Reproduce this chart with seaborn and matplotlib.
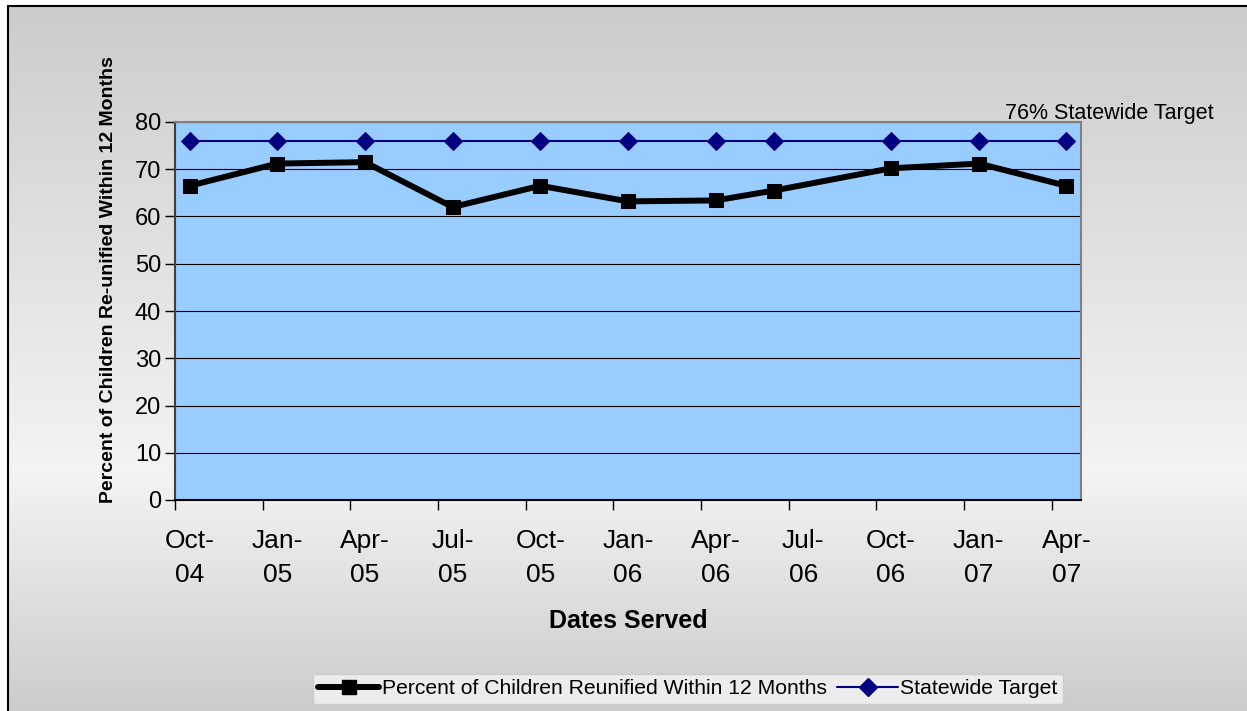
import numpy as np
import pandas as pd
import matplotlib.pyplot as plt
import seaborn as sns
from matplotlib.lines import Line2D

# data
dates = ['2004-10', '2005-01', '2005-04', '2005-07', '2005-10', '2006-01',
         '2006-04', '2006-06', '2006-10', '2007-01', '2007-04']
reunified = [66.5, 71.2, 71.5, 62.0, 66.5, 63.2, 63.4, 65.5, 70.2, 71.2, 66.5]
target = [76, 76, 76, 76, 76, 76, 76, 76, 76, 76, 76]
tick_labels = ['Oct-\n04', 'Jan-\n05', 'Apr-\n05', 'Jul-\n05', 'Oct-\n05', 'Jan-\n06',
               'Apr-\n06', 'Jul-\n06', 'Oct-\n06', 'Jan-\n07', 'Apr-\n07']

sns.set_style("white")
plt.rcParams['font.family'] = ['Liberation Sans', 'DejaVu Sans']
plt.rcParams['text.color'] = 'black'
plt.rcParams['axes.labelcolor'] = 'black'
plt.rcParams['xtick.color'] = 'black'
plt.rcParams['ytick.color'] = 'black'

start = pd.Period('2004-10', freq='M')
months = [(pd.Period(d, freq='M') - start).n + 0.5 for d in dates]
df = pd.DataFrame({'month': months, 'reunified': reunified, 'target': target})

fig = plt.figure(figsize=(12.47, 7.11), dpi=100)
fig.patch.set_facecolor('white')

# gradient background inside the chart frame
bg = fig.add_axes([8 / 1247, 0, 1 - 8 / 1247, 1 - 6 / 711], zorder=-10)
ys = np.linspace(0, 711, 300)
shade = np.interp(ys, [0, 470, 711], [0.80, 0.955, 0.80])
grad = np.dstack([shade, shade, shade])[0][:, None, :]
bg.imshow(grad, aspect='auto', extent=[0, 1, 1, 0])
bg.set_xlim(0, 1)
bg.set_ylim(1, 0)
bg.axis('off')
fig.add_artist(Line2D([8 / 1247, 8 / 1247], [0, 1 - 6 / 711], color='black', lw=1.5))
fig.add_artist(Line2D([8 / 1247, 1], [1 - 6 / 711, 1 - 6 / 711], color='black', lw=1.5))

ax = fig.add_axes([175 / 1247, 1 - 500 / 711, (1081 - 175) / 1247, (500 - 122) / 711])
ax.set_facecolor('#99CCFF')

sns.lineplot(data=df, x='month', y='reunified', ax=ax, color='black', linewidth=4.3,
             marker='s', markersize=10, markeredgecolor='black', zorder=3)
sns.lineplot(data=df, x='month', y='target', ax=ax, color='#000080', linewidth=1.5,
             marker='D', markersize=9.5, markeredgecolor='#000080', zorder=4)

ax.set_xlim(0, 31)
ax.set_ylim(0, 80)
ax.set_yticks(range(0, 81, 10))
ax.yaxis.grid(True, color='black', linewidth=0.8)
ax.set_axisbelow(True)
ax.set_xticks(range(0, 31, 3))
ax.set_xticklabels([])
ax.set_xticks([m + 0.5 for m in range(0, 31, 3)], minor=True)
ax.set_xticklabels(tick_labels, minor=True, fontsize=19, linespacing=1.5)
ax.tick_params(axis='x', which='major', direction='out', length=7, width=1, color='black', bottom=True)
ax.tick_params(axis='x', which='minor', length=0, pad=21, bottom=True)
ax.tick_params(axis='y', direction='out', length=7, width=1, color='black', labelsize=17, left=True, pad=3)

for side in ['top', 'right']:
    ax.spines[side].set_color('#808080')
    ax.spines[side].set_linewidth(1.5)
ax.spines['left'].set_color('#404040')
ax.spines['left'].set_linewidth(1.5)
ax.spines['bottom'].set_color('black')
ax.spines['bottom'].set_linewidth(1.5)

ax.set_xlabel('Dates Served', fontsize=18, fontweight='bold', labelpad=16)
ax.set_ylabel('Percent of Children Re-unified Within 12 Months', fontsize=14,
              fontweight='bold')
ax.yaxis.set_label_coords(-0.064, 0.582)

fig.text(1005 / 1247, 1 - 114 / 711, '76% Statewide Target', fontsize=15.5, va='center', ha='left')

handles = [Line2D([], [], color='black', lw=4.3, marker='s', markersize=10),
           Line2D([], [], color='#000080', lw=1.5, marker='D', markersize=9)]
leg = fig.legend(handles, ['Percent of Children Reunified Within 12 Months', 'Statewide Target'],
                 loc='center', bbox_to_anchor=(688 / 1247, 1 - 689 / 711), ncol=2,
                 fontsize=15.2, frameon=True, fancybox=False, handlelength=2.9,
                 handletextpad=0.1, columnspacing=0.5, borderpad=0.25, borderaxespad=0)
leg.get_frame().set_facecolor('#f4f4f4')
leg.get_frame().set_edgecolor('#c8c8c8')
leg.get_frame().set_linewidth(1)

fig.savefig('out.png', dpi=100)
